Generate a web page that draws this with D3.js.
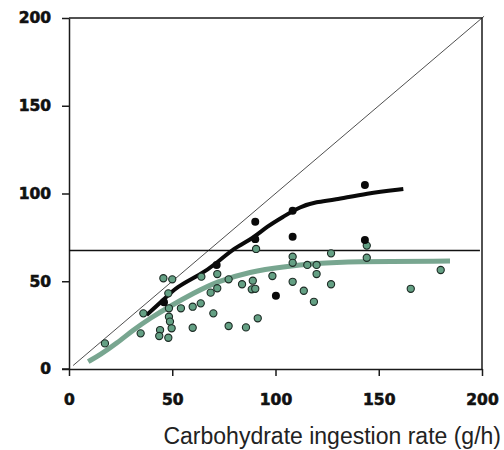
<!DOCTYPE html>
<html>
<head>
<meta charset="utf-8">
<script src="https://cdn.jsdelivr.net/npm/d3@7"></script>
<style>
  body { margin: 0; background: #fff; }
  svg { display: block; }
</style>
</head>
<body>
<svg id="chart" width="504" height="450"></svg>
<script>
// axis ticks
const xTicks = [0, 50, 100, 150, 200];
const yTicks = [0, 50, 100, 150, 200];
const xTitle = "Carbohydrate ingestion rate (g/h)";

// reference line (horizontal)
const refLevel = 67.5;

// black fitted curve
const blackCurveX = [37.6, 45.7, 52.1, 63.4, 71.5, 79.6, 89.3, 95.7, 103.8, 111.9, 119.9, 128, 144.2, 161.9];
const blackCurveY = [30.8, 39.3, 46.9, 53.6, 60.2, 68.8, 74.5, 81.1, 86.8, 92.5, 95.3, 96.3, 100.1, 102.6];

// green fitted curve
const greenCurveX = [9.3, 15, 23.1, 31.1, 39.2, 50, 60.2, 71.5, 87.7, 103.8, 119.9, 136.1, 184.5];
const greenCurveY = [4.2, 8, 14.6, 22.2, 28.9, 36.5, 43.1, 49.8, 55.5, 58.3, 60.2, 61.2, 61.5];

// green scatter points
const greenX = [17.4, 34.7, 36, 44.1, 43.7, 45.7, 50, 48.1, 48.4, 48.4, 48.9, 48.1, 49.7, 54.2, 59.9, 59.9, 63.8, 64.1, 68.6, 69.9,
  71.8, 71.8, 77.3, 77.3, 83.8, 85.7, 89, 88.5, 90.2, 90.6, 91.4, 98.5, 108.3, 108.3, 108.3, 113.7, 115.4, 118.6, 119.9, 119.9,
  126.9, 126.9, 144.2, 144.2, 165.5, 180];
const greenY = [14.6, 20.3, 31.7, 22.2, 18.8, 51.7, 51.1, 43.1, 34.6, 29.8, 27, 17.8, 23.2, 34.6, 35.5, 23.5, 37.4, 52.6, 43.5, 31.7,
  54.1, 46, 24.5, 51.1, 48.3, 23.7, 50.3, 45.4, 45.7, 68.4, 28.9, 53, 64, 49.7, 60.5, 44.6, 59.3, 38.3, 54.1, 59.3,
  48.3, 65.9, 70.3, 63.4, 45.7, 56.4];

// black scatter points
const blackX = [46, 71.5, 90.2, 90.2, 100.2, 108.3, 108.3, 143.3, 143.3];
const blackY = [38, 59.3, 83.9, 74, 41.8, 75.4, 90.2, 104.8, 73.5];

const svg = d3.select("#chart");
const x = d3.scaleLinear().domain([0, 200]).range([69, 482]);
const y = d3.scaleLinear().domain([0, 200]).range([369, 18]);

const tickFont = "'DejaVu Sans', Verdana, sans-serif";

// frame top/right
svg.append("path")
  .attr("d", `M${x(0)},${y(200)}H${x(200)}V${y(0)}`)
  .attr("fill", "none").attr("stroke", "#1a1a1a").attr("stroke-width", 1.5);

const xAxis = svg.append("g")
  .attr("transform", `translate(0,${y(0)})`)
  .call(d3.axisBottom(x).tickValues(xTicks).tickSize(7).tickSizeOuter(0).tickPadding(18));
const yAxis = svg.append("g")
  .attr("transform", `translate(${x(0)},0)`)
  .call(d3.axisLeft(y).tickValues(yTicks).tickSize(7).tickSizeOuter(0).tickPadding(11));

[xAxis, yAxis].forEach(g => {
  g.selectAll(".domain, line").attr("stroke", "#1a1a1a").attr("stroke-width", 1.5);
  g.selectAll("text")
    .attr("fill", "#111")
    .attr("stroke", "#111")
    .attr("stroke-width", 0.6)
    .style("font-family", tickFont)
    .style("font-weight", "bold")
    .style("font-size", "15.5px");
});
// bottom axis line also runs left to the y tick
svg.append("line")
  .attr("x1", x(0) - 7).attr("x2", x(0)).attr("y1", y(0)).attr("y2", y(0))
  .attr("stroke", "#1a1a1a").attr("stroke-width", 1.5);

// identity line
svg.append("line")
  .attr("x1", x(2)).attr("y1", y(2)).attr("x2", x(201)).attr("y2", y(201))
  .attr("stroke", "#222").attr("stroke-width", 0.8);

// horizontal reference
svg.append("line")
  .attr("x1", x(0)).attr("x2", x(199)).attr("y1", y(refLevel)).attr("y2", y(refLevel))
  .attr("stroke", "#111").attr("stroke-width", 1.5);

const line = d3.line().x(d => x(d[0])).y(d => y(d[1])).curve(d3.curveBasis);

svg.append("path")
  .datum(greenCurveX.map((v, i) => [v, greenCurveY[i]]))
  .attr("d", line)
  .attr("fill", "none").attr("stroke", "#78a690").attr("stroke-width", 5);

svg.append("path")
  .datum(blackCurveX.map((v, i) => [v, blackCurveY[i]]))
  .attr("d", line)
  .attr("fill", "none").attr("stroke", "#0a0a0a").attr("stroke-width", 4);

// green points
svg.append("g").selectAll("circle")
  .data(greenX.map((v, i) => [v, greenY[i]]))
  .join("circle")
  .attr("cx", d => x(d[0])).attr("cy", d => y(d[1]))
  .attr("r", 3.6)
  .attr("fill", "#64a084").attr("stroke", "#1c2a24").attr("stroke-width", 1.1);

// black points
svg.append("g").selectAll("path")
  .data(blackX.map((v, i) => [v, blackY[i]]))
  .join("path")
  .attr("transform", d => `translate(${x(d[0])},${y(d[1])})`)
  .attr("d", d3.symbol(d3.symbolCircle, 50))
  .attr("fill", "#0a0a0a");

// x title
svg.append("text")
  .attr("x", 501).attr("y", 444)
  .attr("text-anchor", "end")
  .attr("fill", "#222")
  .style("font-family", "'Liberation Sans', Arial, sans-serif")
  .style("font-size", "23px")
  .text(xTitle);
</script>
</body>
</html>
